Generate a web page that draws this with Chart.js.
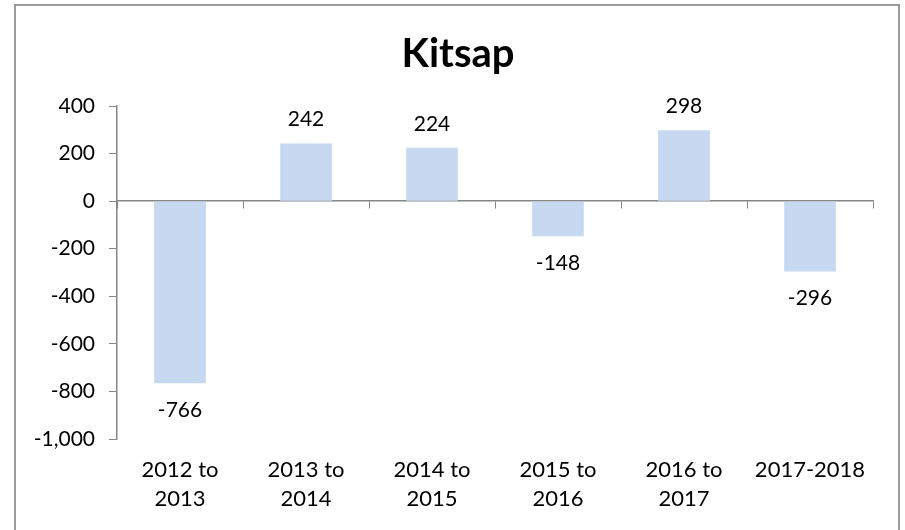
<!DOCTYPE html>
<html>
<head>
<meta charset="utf-8">
<script src="https://cdn.jsdelivr.net/npm/chart.js@4.4.1/dist/chart.umd.min.js"></script>
<style>
  html, body { margin: 0; padding: 0; background: #fff; }
  #wrap { width: 905px; height: 530px; position: relative; }
</style>
</head>
<body>
<div id="wrap"><canvas id="c" width="905" height="530"></canvas></div>
<script>
const categories = [['2012 to', '2013'], ['2013 to', '2014'], ['2014 to', '2015'], ['2015 to', '2016'], ['2016 to', '2017'], ['2017-2018']];
const values = [-766, 242, 224, -148, 298, -296];
const yTicks = [-1000, -800, -600, -400, -200, 0, 200, 400];
const chartTitle = 'Kitsap';

const FONT = 'Lato, "Open Sans", sans-serif';
const AXIS = '#868686';

const borderPlugin = {
  id: 'frame',
  beforeDraw(chart) {
    const ctx = chart.ctx;
    ctx.save();
    ctx.fillStyle = '#fff';
    ctx.fillRect(0, 0, chart.width, chart.height);
    ctx.strokeStyle = '#9a9a9a';
    ctx.lineWidth = 2;
    ctx.strokeRect(15, 5, 884, 530);
    ctx.restore();
  }
};

const labelPlugin = {
  id: 'valueLabels',
  afterDatasetsDraw(chart) {
    const ctx = chart.ctx;
    const meta = chart.getDatasetMeta(0);
    ctx.save();
    ctx.font = '21px ' + FONT;
    ctx.fillStyle = '#000';
    ctx.textAlign = 'center';
    ctx.textBaseline = 'middle';
    meta.data.forEach((bar, i) => {
      const v = chart.data.datasets[0].data[i];
      const y = v >= 0 ? bar.y - 24 : bar.y + 27;
      ctx.fillText(v.toLocaleString('en-US'), bar.x, y);
    });
    ctx.restore();
  }
};

new Chart(document.getElementById('c'), {
  type: 'bar',
  data: {
    labels: categories,
    datasets: [{
      data: values,
      backgroundColor: '#C6D9F1',
      borderWidth: 0,
      barPercentage: 0.41,
      categoryPercentage: 1.0,
      xAxisID: 'x',
      yAxisID: 'y'
    }]
  },
  options: {
    responsive: false,
    animation: false,
    devicePixelRatio: 1,
    layout: { padding: { left: 11, right: 0, top: 0, bottom: 0 } },
    plugins: {
      legend: { display: false },
      tooltip: { enabled: false },
      title: {
        display: true,
        text: chartTitle,
        color: '#000',
        font: { family: FONT, size: 40, weight: 'bold', lineHeight: 1.2 },
        padding: { top: 30, bottom: 28 }
      }
    },
    scales: {
      x: {
        type: 'category',
        position: 'bottom',
        offset: true,
        grid: { display: false, drawTicks: false },
        border: { display: false },
        ticks: {
          color: '#000',
          font: { family: FONT, size: 22, lineHeight: 1.3 },
          padding: 17,
          maxRotation: 0,
          autoSkip: false
        },
        afterFit(scale) { scale.height = 91; }
      },
      x2: {
        type: 'category',
        position: { y: 0 },
        offset: true,
        grid: { offset: true, drawOnChartArea: false, drawTicks: true, tickLength: 7, color: AXIS },
        border: { display: true, color: AXIS, width: 1.5 },
        ticks: { display: false }
      },
      y: {
        min: -1000,
        max: 400,
        afterBuildTicks(scale) { scale.ticks = yTicks.map(v => ({ value: v })); },
        grid: { drawOnChartArea: false, drawTicks: true, tickLength: 8, color: AXIS },
        border: { display: true, color: AXIS, width: 1.5 },
        ticks: {
          color: '#000',
          font: { family: FONT, size: 21 },
          padding: 14,
          callback: (v) => Number(v).toLocaleString('en-US')
        },
        afterFit(scale) { scale.width = 106; }
      },
      yR: {
        position: 'right',
        min: -1000,
        max: 400,
        grid: { display: false, drawTicks: false },
        border: { display: false },
        ticks: { display: false },
        afterFit(scale) { scale.width = 32; }
      }
    }
  },
  plugins: [borderPlugin, labelPlugin]
});
</script>
</body>
</html>
